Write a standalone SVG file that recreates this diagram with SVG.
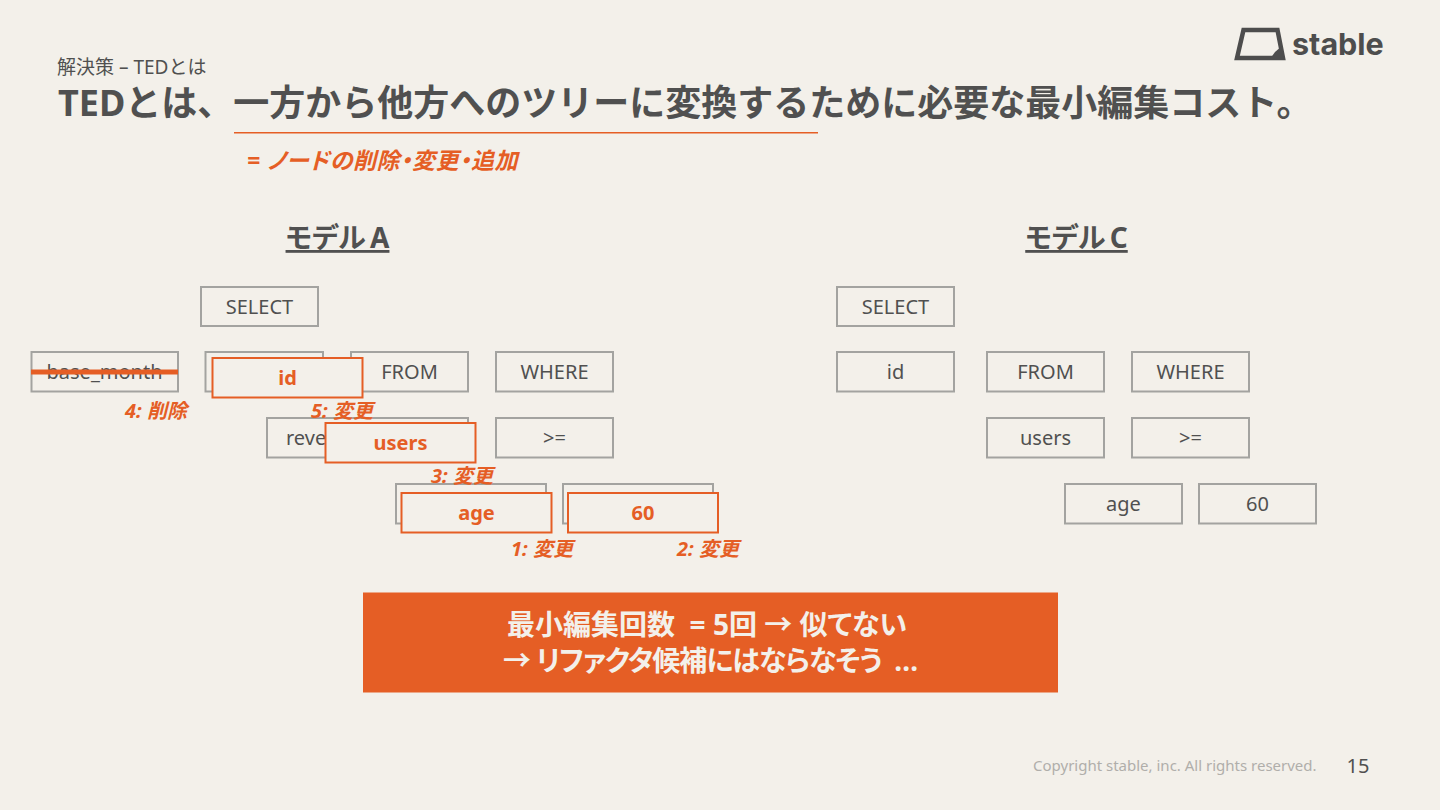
<svg xmlns="http://www.w3.org/2000/svg" width="1440" height="810" viewBox="0 0 1440 810">
<style>
text{font-family:"Noto Sans","Noto Sans CJK JP",sans-serif;fill:#505050}
.b{fill:none;stroke:#a3a3a0;stroke-width:2}
.o{fill:#f3f0ea;stroke:#e55e25;stroke-width:2}
.t{font-size:20px;text-anchor:middle}
.ot{font-size:20px;text-anchor:middle;font-weight:700;fill:#e55e25}
.l{font-size:20px;font-weight:700;font-style:italic;fill:#e55e25}
.h{font-size:28px;font-weight:700;text-anchor:middle;text-decoration:underline;font-feature-settings:"palt";word-spacing:-3px}
.bn{font-size:28px;font-weight:700;text-anchor:middle;fill:#f3f0ea;font-feature-settings:"palt"}
</style>
<rect width="1440" height="810" fill="#f3f0ea"/>
<g id="logo">
<path d="M1243.500 30H1277.500L1283 58H1237Z" fill="none" stroke="#4d4d4d" stroke-width="4.500" stroke-linejoin="miter"/>
<path d="M1275 52L1282 46L1284 59H1270Z" fill="#4d4d4d"/>
<text x="1292" y="55" font-size="30.500" font-weight="700" style="font-family:Inter,sans-serif;fill:#4d4d4d">stable</text>
</g>
<text id="breadcrumb" x="57" y="74" font-size="19">解決策 – TEDとは</text>
<text id="title" x="58" y="116" font-size="36" font-weight="700">TEDとは、一方から他方へのツリーに変換するために必要な最小編集コスト。</text>
<rect id="title-underline" x="234" y="132" width="584" height="1.500" fill="#e55e25"/>
<text id="subtitle" x="247" y="169" font-size="23" letter-spacing="0.5" font-weight="700" font-style="italic" style="fill:#e55e25;font-feature-settings:'palt'">= ノードの削除・変更・追加</text>
<text id="heading-a" class="h" x="337.500" y="248">モデル A</text>
<text id="heading-c" class="h" x="1076.500" y="248">モデル C</text>
<g id="connectors"></g>
<g id="a-select"><rect class="b" x="201" y="287" width="117" height="39"/><text class="t" x="259.500" y="314">SELECT</text></g>
<g id="a-base-month"><rect class="b" x="31.500" y="352" width="146.500" height="39.500"/><text class="t" x="104.500" y="379">base_month</text><rect x="31" y="369.500" width="147" height="5" fill="#e55e25"/></g>
<g id="a-id-old"><rect class="b" x="205.500" y="352" width="117.500" height="39.500"/></g>
<g id="a-from"><rect class="b" x="351" y="352" width="117" height="39.500"/><text class="t" x="409.500" y="379">FROM</text></g>
<g id="a-where"><rect class="b" x="496" y="352" width="117" height="39.500"/><text class="t" x="554.500" y="379">WHERE</text></g>
<g id="a-revenue"><rect class="b" x="267" y="418" width="201" height="39.500"/><text x="286" y="445" font-size="20">reve</text></g>
<g id="a-gte"><rect class="b" x="496" y="418" width="117" height="39.500"/><text class="t" x="554.500" y="445">&gt;=</text></g>
<g id="a-row3-left"><rect class="b" x="396" y="484" width="150" height="39.500"/></g>
<g id="a-row3-right"><rect class="b" x="563" y="484" width="150" height="39.500"/></g>
<g id="a-new-id"><rect class="o" x="212.500" y="358" width="150" height="39.500"/><text class="ot" x="287.500" y="385">id</text></g>
<g id="a-new-users"><rect class="o" x="325.500" y="423" width="150" height="39.500"/><text class="ot" x="400.500" y="450">users</text></g>
<g id="a-new-age"><rect class="o" x="401.500" y="493" width="150" height="39.500"/><text class="ot" x="476.500" y="520">age</text></g>
<g id="a-new-60"><rect class="o" x="568" y="493" width="150" height="39.500"/><text class="ot" x="643" y="520">60</text></g>
<text class="l" x="125" y="418">4: 削除</text>
<text class="l" x="311" y="418">5: 変更</text>
<text class="l" x="431" y="483">3: 変更</text>
<text class="l" x="511" y="556">1: 変更</text>
<text class="l" x="677" y="556">2: 変更</text>
<g id="c-select"><rect class="b" x="837" y="287" width="117" height="39"/><text class="t" x="895.500" y="314">SELECT</text></g>
<g id="c-id"><rect class="b" x="837" y="352" width="117" height="39.500"/><text class="t" x="895.500" y="379">id</text></g>
<g id="c-from"><rect class="b" x="987" y="352" width="117" height="39.500"/><text class="t" x="1045.500" y="379">FROM</text></g>
<g id="c-where"><rect class="b" x="1132" y="352" width="117" height="39.500"/><text class="t" x="1190.500" y="379">WHERE</text></g>
<g id="c-users"><rect class="b" x="987" y="418" width="117" height="39.500"/><text class="t" x="1045.500" y="445">users</text></g>
<g id="c-gte"><rect class="b" x="1132" y="418" width="117" height="39.500"/><text class="t" x="1190.500" y="445">&gt;=</text></g>
<g id="c-age"><rect class="b" x="1065" y="484" width="117" height="39.500"/><text class="t" x="1123.500" y="511">age</text></g>
<g id="c-60"><rect class="b" x="1199" y="484" width="117" height="39.500"/><text class="t" x="1257.500" y="511">60</text></g>
<g id="banner"><rect x="363" y="592.500" width="695" height="100" fill="#e55e25"/>
<text class="bn" x="707" y="635" xml:space="preserve">最小編集回数  = 5回 → 似てない</text>
<text class="bn" x="710" y="671" letter-spacing="-1" xml:space="preserve">→ リファクタ候補にはならなそう  …</text></g>
<text id="copyright" x="1033" y="771" font-size="15" style="fill:#b0aeaa">Copyright stable, inc. All rights reserved.</text>
<text id="page" x="1358" y="773" font-size="20" text-anchor="middle">15</text>
</svg>
